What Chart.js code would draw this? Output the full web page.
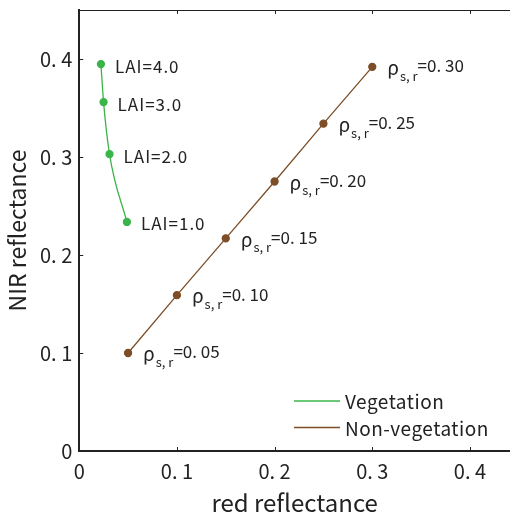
<!DOCTYPE html>
<html>
<head>
<meta charset="utf-8">
<script src="https://cdn.jsdelivr.net/npm/chart.js@4"></script>
<style>
  html, body { margin: 0; padding: 0; background: #fff; }
  #wrap { width: 510px; height: 513px; }
</style>
</head>
<body>
<div id="wrap"><canvas id="reflChart"></canvas></div>
<script>
// values
const vegRed = [0.0222, 0.0249, 0.031, 0.0488]
const vegNir = [0.3948, 0.356, 0.303, 0.2337]
const vegLabels = ['LAI=4.0', 'LAI=3.0', 'LAI=2.0', 'LAI=1.0']

const soilRed = [0.05, 0.10, 0.15, 0.20, 0.25, 0.30]
const soilNir = [0.100, 0.159, 0.217, 0.275, 0.334, 0.392]
const soilLabels = ['=0. 05', '=0. 10', '=0. 15', '=0. 20', '=0. 25', '=0. 30']

const xTicks = [0, 0.1, 0.2, 0.3, 0.4]
const yTicks = [0, 0.1, 0.2, 0.3, 0.4]

const green = '#3bb44a'
const brown = '#7d4e27'
const font = '"Noto Sans CJK JP", "DejaVu Sans", sans-serif'

const toPoints = (xs, ys) => xs.map((x, i) => ({x, y: ys[i]}))

const fmtTick = v => v === 0 ? '0' : v.toFixed(1).replace('.', '. ')

const noEdgePad = s => { s.paddingTop = 0; s.paddingBottom = 0; s.paddingLeft = 0; s.paddingRight = 0 }

const framePlugin = {
    id: 'frame',
    afterDraw(chart) {
        const {ctx, chartArea: a, scales} = chart
        ctx.save()
        ctx.strokeStyle = '#222'
        // top border
        ctx.lineWidth = 1
        ctx.beginPath()
        ctx.moveTo(a.left, a.top + 0.5)
        ctx.lineTo(a.right, a.top + 0.5)
        ctx.stroke()
        // inward ticks
        xTicks.forEach(v => {
            if (v === 0) return
            const px = Math.round(scales.x.getPixelForValue(v)) + 0.5
            ctx.beginPath()
            ctx.moveTo(px, a.bottom); ctx.lineTo(px, a.bottom - 4)
            ctx.moveTo(px, a.top); ctx.lineTo(px, a.top + 4)
            ctx.stroke()
        })
        yTicks.forEach(v => {
            if (v === 0) return
            const py = Math.round(scales.y.getPixelForValue(v)) + 0.5
            ctx.beginPath()
            ctx.moveTo(a.left, py); ctx.lineTo(a.left + 4, py)
            ctx.stroke()
        })
        // point labels
        ctx.fillStyle = '#222'
        ctx.textBaseline = 'middle'
        ctx.letterSpacing = '1px'
        ctx.font = '17px ' + font
        chart.getDatasetMeta(0).data.forEach((pt, i) => {
            ctx.fillText(vegLabels[i], pt.x + 14, pt.y + 2)
        })
        chart.getDatasetMeta(1).data.forEach((pt, i) => {
            let x = pt.x + 15
            ctx.letterSpacing = '0px'
            ctx.font = '19px ' + font
            ctx.fillText('ρ', x, pt.y + 1)
            x += ctx.measureText('ρ').width + 1
            ctx.font = '13px ' + font
            ctx.fillText('s, r', x, pt.y + 9)
            x += ctx.measureText('s, r').width
            ctx.font = '17px ' + font
            ctx.fillText(soilLabels[i], x, pt.y - 1)
        })
        // legend inside plot
        ctx.letterSpacing = '0.5px'
        ctx.font = '19px ' + font
        chart.data.datasets.forEach((ds, i) => {
            const y = 401 + i * 26.5
            ctx.strokeStyle = ds.borderColor
            ctx.lineWidth = 1.5
            ctx.beginPath()
            ctx.moveTo(294, y); ctx.lineTo(340, y)
            ctx.stroke()
            ctx.fillStyle = '#222'
            ctx.fillText(ds.label, 345, y + 1)
        })
        ctx.restore()
    }
}

const data = {
    datasets: [{
        label: 'Vegetation',
        data: toPoints(vegRed, vegNir),
        borderColor: green,
        backgroundColor: green,
        borderWidth: 1.3,
        pointRadius: 3.5,
        cubicInterpolationMode: 'monotone',
        showLine: true
    }, {
        label: 'Non-vegetation',
        data: toPoints(soilRed, soilNir),
        borderColor: brown,
        backgroundColor: brown,
        borderWidth: 1.3,
        pointRadius: 3.5,
        showLine: true
    }]
}

const options = {
    responsive: true,
    maintainAspectRatio: false,
    animation: false,
    layout: {autoPadding: false, padding: {top: 10, right: 0, left: 0, bottom: -2}},
    plugins: {
        legend: {display: false},
        tooltip: {enabled: false}
    },
    scales: {
        x: {
            type: 'linear', min: 0, max: 0.441,
            afterBuildTicks: s => { s.ticks = xTicks.map(v => ({value: v})) },
            afterFit: noEdgePad,
            grid: {display: false, drawTicks: false},
            border: {display: true, color: '#222', width: 2},
            ticks: {callback: fmtTick, color: '#222', padding: 10, maxRotation: 0,
                font: {family: font, size: 20, lineHeight: 1}},
            title: {display: true, text: 'red reflectance', color: '#222', padding: {top: 0, bottom: 0},
                font: {family: font, size: 24, lineHeight: 1}}
        },
        y: {
            type: 'linear', min: 0, max: 0.45,
            afterBuildTicks: s => { s.ticks = yTicks.map(v => ({value: v})) },
            afterFit: noEdgePad,
            grid: {display: false, drawTicks: false},
            border: {display: true, color: '#222', width: 2},
            ticks: {callback: fmtTick, color: '#222', padding: 7,
                font: {family: font, size: 20}},
            title: {display: true, text: 'NIR reflectance', color: '#222', padding: {top: 6, bottom: 4},
                font: {family: font, size: 23, lineHeight: 1}}
        }
    }
}

new Chart('reflChart', {type: 'scatter', data, options, plugins: [framePlugin]})
</script>
</body>
</html>
